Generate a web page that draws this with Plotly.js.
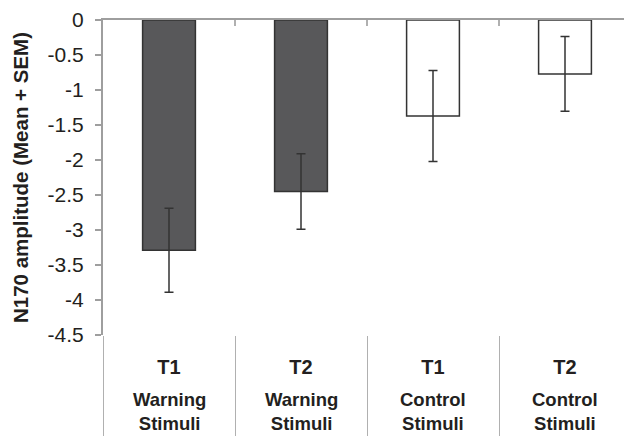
<!DOCTYPE html>
<html>
<head>
<meta charset="utf-8">
<script src="https://cdn.plot.ly/plotly-3.0.1.min.js"></script>
<style>html,body{margin:0;padding:0;background:#fff;}#chart{width:624px;height:436px;}</style>
</head>
<body>
<div id="chart"></div>
<script>
var categories = ['Warning T1', 'Warning T2', 'Control T1', 'Control T2'];
var timeLabels = ['T1', 'T2', 'T1', 'T2'];
var groupLabels = ['Warning<br>Stimuli', 'Warning<br>Stimuli', 'Control<br>Stimuli', 'Control<br>Stimuli'];
var means = [-3.29, -2.45, -1.37, -0.77];
var sems = [0.60, 0.54, 0.65, 0.535];
var barColors = ['#58585a', '#58585a', '#ffffff', '#ffffff'];
var yTicks = [0, -0.5, -1, -1.5, -2, -2.5, -3, -3.5, -4, -4.5];

var font = 'Liberation Sans, Arial, sans-serif';
var textColor = '#231f20';
var fs = 20;

var traces = [
  {
    type: 'bar',
    x: categories,
    y: means,
    width: 0.4,
    marker: {color: barColors, line: {color: '#333333', width: 1.5}},
    error_y: {type: 'data', array: sems, visible: true, color: '#333333', thickness: 1.5, width: 4.5},
    xaxis: 'x',
    yaxis: 'y',
    hoverinfo: 'skip'
  },
  {
    type: 'scatter',
    mode: 'markers',
    x: categories,
    y: means,
    marker: {opacity: 0},
    xaxis: 'x2',
    yaxis: 'y',
    hoverinfo: 'skip',
    showlegend: false
  }
];

function px2paper(py) { return (335 - py) / 315; }

var annotations = categories.map(function (c, i) {
  return {
    xref: 'x', yref: 'paper', x: c, y: px2paper(411),
    text: '<b>' + groupLabels[i] + '</b>',
    showarrow: false, xanchor: 'center', yanchor: 'middle',
    font: {family: font, size: 18.5, color: textColor}
  };
});

var layout = {
  width: 624, height: 436,
  margin: {l: 103, r: 0, t: 20, b: 101},
  paper_bgcolor: '#ffffff', plot_bgcolor: '#ffffff',
  showlegend: false,
  font: {family: font, size: fs, color: textColor},
  xaxis: {
    type: 'category',
    categoryorder: 'array', categoryarray: categories,
    range: [-0.5, 3.447],
    side: 'bottom',
    showline: false, showgrid: false, zeroline: false,
    tickson: 'boundaries',
    ticks: 'outside', ticklen: 101, tickwidth: 1, tickcolor: '#b0b0b0',
    tickvals: categories,
    ticktext: timeLabels.map(function (t) { return '<b>' + t + '</b>'; }),
    ticklabelstandoff: 18,
    tickfont: {family: font, size: fs, color: textColor}
  },
  xaxis2: {
    type: 'category',
    categoryorder: 'array', categoryarray: categories,
    overlaying: 'x', matches: 'x',
    side: 'top',
    showline: true, linecolor: '#9e9e9e', linewidth: 2,
    showgrid: false, zeroline: false,
    tickson: 'boundaries',
    ticks: 'inside', ticklen: 6, tickwidth: 1.5, tickcolor: '#b0b0b0',
    showticklabels: false
  },
  yaxis: {
    range: [-4.5, 0],
    tickvals: yTicks,
    ticktext: yTicks.map(String),
    showline: true, linecolor: '#9e9e9e', linewidth: 2,
    showgrid: false, zeroline: false,
    ticks: 'outside', ticklen: 6, tickwidth: 1.5, tickcolor: '#9e9e9e',
    ticklabelstandoff: 7,
    tickfont: {family: font, size: 21, color: textColor},
    title: {text: '<b>N170 amplitude (Mean + SEM)</b>', font: {family: font, size: 20.5, color: textColor}, standoff: 13}
  },
  annotations: annotations
};

Plotly.newPlot('chart', traces, layout, {staticPlot: true, displayModeBar: false});
</script>
</body>
</html>
